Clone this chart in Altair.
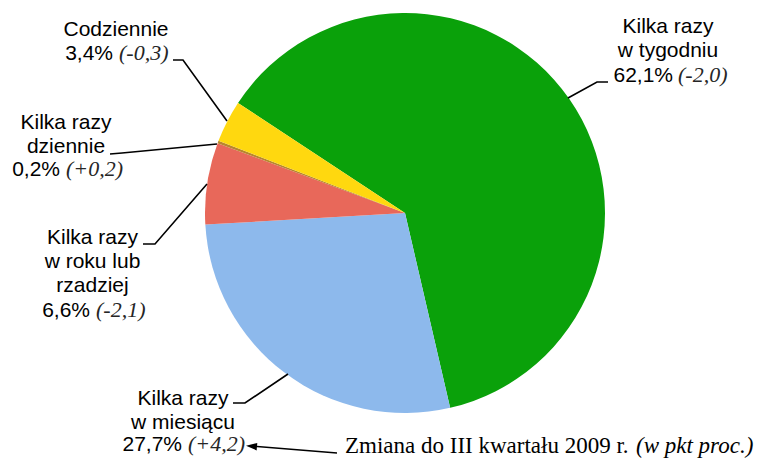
import math
import altair as alt
import pandas as pd

# ---------------- data ----------------
categories = [
    "Kilka razy w tygodniu",
    "Kilka razy w miesiącu",
    "Kilka razy w roku lub rzadziej",
    "Kilka razy dziennie",
    "Codziennie",
]
shares = [62.1, 27.7, 6.6, 0.2, 3.4]
share_labels = ["62,1%", "27,7%", "6,6%", "0,2%", "3,4%"]
changes = ["(-2,0)", "(+4,2)", "(-2,1)", "(+0,2)", "(-0,3)"]
name_lines = [
    ["Kilka razy", "w tygodniu"],
    ["Kilka razy", "w miesiącu"],
    ["Kilka razy", "w roku lub", "rzadziej"],
    ["Kilka razy", "dziennie"],
    ["Codziennie"],
]
note_text = "Zmiana do III kwartału 2009 r."
note_italic = "(w pkt proc.)"

# ---------------- style / layout ----------------
colors = ["#0AA10A", "#8DB9EC", "#E8685A", "#B8862E", "#FFD80F"]
OFF = 8  # page margin
CX, CY, R = 405 - OFF, 213 - OFF, 200
START = math.radians(303.4)

# label layout: (centre x of names, first baseline, pct baseline, pct right x, italic left x)
label_layout = [
    (668, 33, 82, 673, 678),
    (183, 405, 451, 182, 188),
    (92.5, 244, 317, 90, 96),
    (66, 129, 176, 60, 66),
    (116, 36, 60, 113, 119),
]
LINE_STEP = 24

leader_paths = [
    [(608, 82), (597, 82), (568, 98)],
    [(233, 403), (245, 403), (288, 374)],
    [(143, 244), (155, 244), (207, 184)],
    [(110, 154), (122, 153), (217, 144)],
    [(173, 60), (183, 60), (227, 121)],
]
arrow_path = [(337, 453), (250, 446)]
arrow_tip = (246, 445.7)
note_x, note_italic_x, note_y = 345, 636, 453

# ---------------- tables ----------------
pie_df = pd.DataFrame({
    "cat": categories,
    "share": shares,
    "ord": list(range(len(categories))),
})

name_rows, pct_rows, chg_rows = [], [], []
for i, (lines, lay) in enumerate(zip(name_lines, label_layout)):
    cx, b0, pb, pr, il = lay
    for j, t in enumerate(lines):
        name_rows.append({"t": t, "x": cx - OFF, "y": b0 + j * LINE_STEP - OFF})
    pct_rows.append({"t": share_labels[i], "x": pr - OFF, "y": pb - OFF})
    chg_rows.append({"t": changes[i], "x": il - OFF, "y": pb - OFF})

line_rows = []
for g, path in enumerate(leader_paths + [arrow_path]):
    for o, (x, y) in enumerate(path):
        line_rows.append({"g": g, "o": o, "x": x - OFF, "y": y - OFF})

X = lambda f: alt.X(f, scale=None, axis=None)
Y = lambda f: alt.Y(f, scale=None, axis=None)

pie = alt.Chart(pie_df).mark_arc(outerRadius=R, strokeWidth=0).encode(
    theta=alt.Theta("share:Q", stack=True,
                    scale=alt.Scale(range=[START, START + 2 * math.pi])),
    order=alt.Order("ord:Q"),
    color=alt.Color("cat:N", scale=alt.Scale(domain=categories, range=colors), legend=None),
    x=alt.value(CX),
    y=alt.value(CY),
)

names = alt.Chart(pd.DataFrame(name_rows)).mark_text(
    font="Liberation Sans", fontSize=21, align="center", baseline="alphabetic", color="#000000"
).encode(x=X("x:Q"), y=Y("y:Q"), text="t:N")

pcts = alt.Chart(pd.DataFrame(pct_rows)).mark_text(
    font="Liberation Sans", fontSize=21, align="right", baseline="alphabetic", color="#000000"
).encode(x=X("x:Q"), y=Y("y:Q"), text="t:N")

chgs = alt.Chart(pd.DataFrame(chg_rows)).mark_text(
    font="Liberation Serif", fontStyle="italic", fontSize=22, align="left",
    baseline="alphabetic", color="#262626"
).encode(x=X("x:Q"), y=Y("y:Q"), text="t:N")

leaders = alt.Chart(pd.DataFrame(line_rows)).mark_line(
    color="#000000", strokeWidth=1.6
).encode(x=X("x:Q"), y=Y("y:Q"), detail="g:N", order="o:Q")

tip = alt.Chart(pd.DataFrame([{"x": arrow_tip[0] - OFF, "y": arrow_tip[1] - OFF}])).mark_point(
    shape="M0,0 L2.2,-0.75 L2.2,0.75 Z", filled=True, size=100, angle=5,
    color="#000000", opacity=1, strokeWidth=0
).encode(x=X("x:Q"), y=Y("y:Q"))

note = alt.Chart(pd.DataFrame([{"t": note_text, "x": note_x - OFF, "y": note_y - OFF}])).mark_text(
    font="Liberation Serif", fontSize=23, align="left", baseline="alphabetic", color="#000000"
).encode(x=X("x:Q"), y=Y("y:Q"), text="t:N")

note_i = alt.Chart(pd.DataFrame([{"t": note_italic, "x": note_italic_x - OFF, "y": note_y - OFF}])).mark_text(
    font="Liberation Serif", fontStyle="italic", fontSize=23, align="left",
    baseline="alphabetic", color="#000000"
).encode(x=X("x:Q"), y=Y("y:Q"), text="t:N")

chart = alt.layer(pie, leaders, tip, names, pcts, chgs, note, note_i).properties(
    width=757, height=450, autosize="none", padding=0, background="#ffffff"
).configure_view(stroke=None)

chart.save("out.html", embed_options={"renderer": "svg", "actions": False})
